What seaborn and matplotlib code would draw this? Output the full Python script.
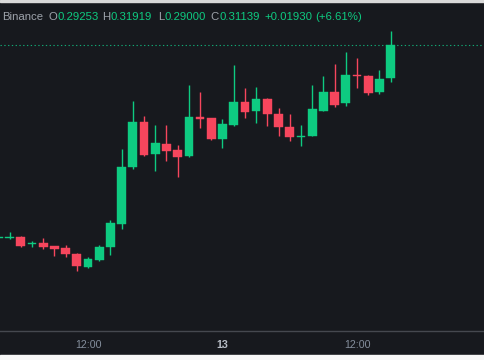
import seaborn as sns
import pandas as pd
import matplotlib.pyplot as plt
from matplotlib.patches import Rectangle

# hourly candles, day 12 04:00 -> day 13 15:00
hours = list(range(4, 40))
opens = [0.20071, 0.20099, 0.20174, 0.19756, 0.19796, 0.19625, 0.19510, 0.19184,
         0.18458, 0.18824, 0.19567, 0.20900, 0.24161, 0.26735, 0.24904, 0.25476,
         0.25133, 0.24773, 0.27038, 0.26963, 0.25762, 0.26546, 0.27879, 0.27364,
         0.28067, 0.27192, 0.26449, 0.25877, 0.25951, 0.27381, 0.28433, 0.27804,
         0.29394, 0.29383, 0.28433, 0.29253]
highs = [0.20157, 0.20443, 0.20214, 0.19928, 0.20117, 0.19642, 0.19699, 0.19259,
         0.19030, 0.19699, 0.21129, 0.25173, 0.27936, 0.27078, 0.26563, 0.26546,
         0.25402, 0.28851, 0.28433, 0.26992, 0.26889, 0.29995, 0.28679, 0.28754,
         0.28107, 0.27518, 0.27175, 0.26546, 0.28851, 0.29349, 0.30052, 0.30721,
         0.30395, 0.29423, 0.29692, 0.31919]
lows = [0.20042, 0.20014, 0.19613, 0.19585, 0.19470, 0.19087, 0.19030, 0.18195,
        0.18412, 0.18784, 0.19127, 0.20631, 0.24029, 0.24790, 0.23932, 0.24521,
        0.23606, 0.24733, 0.26374, 0.25705, 0.25265, 0.26506, 0.26981, 0.26695,
        0.26506, 0.25934, 0.25676, 0.25379, 0.25934, 0.27364, 0.27575, 0.27633,
        0.28662, 0.28262, 0.28319, 0.29000]
closes = [0.20128, 0.20128, 0.19659, 0.19785, 0.19585, 0.19487, 0.19167, 0.18481,
          0.18915, 0.19602, 0.20940, 0.24178, 0.26735, 0.24864, 0.25533, 0.25093,
          0.24750, 0.27003, 0.26906, 0.25779, 0.26603, 0.27879, 0.27324, 0.28050,
          0.27175, 0.26466, 0.25859, 0.25962, 0.27461, 0.28433, 0.27707, 0.29440,
          0.29366, 0.28393, 0.29209, 0.31139]
tick_hours = [12, 24, 36]
tick_labels = ["12:00", "13", "12:00"]
exchange = "Binance"
ohlc_keys = ["O", "H", "L", "C"]
ohlc_vals = ["0.29253", "0.31919", "0.29000", "0.31139"]
change = ["+0.01930", "(+6.61%)"]

df = pd.DataFrame({"hour": hours, "open": opens, "high": highs,
                   "low": lows, "close": closes})
df["up"] = df["close"] >= df["open"]

BG = "#17191e"
GREEN = "#0ecb81"
RED = "#f6465d"
GREY = "#848e9c"
LABEL = "#9ea3ab"

sns.set_theme(style="dark", rc={"axes.facecolor": "none", "figure.facecolor": BG})
plt.rcParams["font.family"] = ["Liberation Sans", "DejaVu Sans"]

fig = plt.figure(figsize=(4.85, 3.6), dpi=100)
# light strips at the very top and bottom of the screenshot
fig.patches.append(Rectangle((0, 0), 1, 5.5 / 360, transform=fig.transFigure,
                             color="#f7f7f7", zorder=0))
fig.patches.append(Rectangle((0, 1 - 1.5 / 360), 1, 1.5 / 360, transform=fig.transFigure,
                             color="#d9d9d9", zorder=0))

ax = fig.add_axes([0, 29 / 360, 1, 331 / 360])
ax.set_xlim(4.149, 47.42)
ax.set_ylim(0.14780, 0.33713)

colors = [GREEN if u else RED for u in df["up"]]
ax.vlines(df["hour"], df["low"], df["high"], colors=colors, lw=1.0, zorder=2)
body_bottom = df[["open", "close"]].min(axis=1)
body_height = (df["close"] - df["open"]).abs().clip(lower=0.0006)
ax.bar(df["hour"], body_height, bottom=body_bottom, width=0.78, color=colors,
       edgecolor=colors, linewidth=0.3, zorder=3)

# last price line
ax.axhline(closes[-1], color="#13a874", lw=0.8, ls=(0, (1.2, 2.2)), zorder=1)

ax.set_xticks(tick_hours, tick_labels)
ax.set_yticks([])
ax.tick_params(axis="x", length=0, pad=6.5, labelsize=7.7, labelcolor=GREY)
ax.get_xticklabels()[1].set_color("#b7bdc6")
ax.get_xticklabels()[1].set_fontweight("bold")
ax.grid(False)
sns.despine(ax=ax, left=True, right=True, top=True)
ax.spines["bottom"].set_color("#45484f")
ax.spines["bottom"].set_linewidth(1.0)
ax.set_xlabel("")
ax.set_ylabel("")

# header line
ty = 1 - 16.5 / 360
fs = 8.2
fig.text(43.5 / 485, ty, exchange, ha="right", va="center", fontsize=fs, color=LABEL)
for key, val, x in zip(ohlc_keys, ohlc_vals, [57.3, 110.7, 164.3, 219.3]):
    fig.text((x - 0.3) / 485, ty, key, ha="right", va="center", fontsize=fs, color=LABEL)
    fig.text(x / 485, ty, val, ha="left", va="center", fontsize=fs, color=GREEN)
for txt, x in zip(change, [264.3, 315.0]):
    fig.text(x / 485, ty, txt, ha="left", va="center", fontsize=fs, color=GREEN)

fig.savefig("out.png", dpi=100, facecolor=BG)
